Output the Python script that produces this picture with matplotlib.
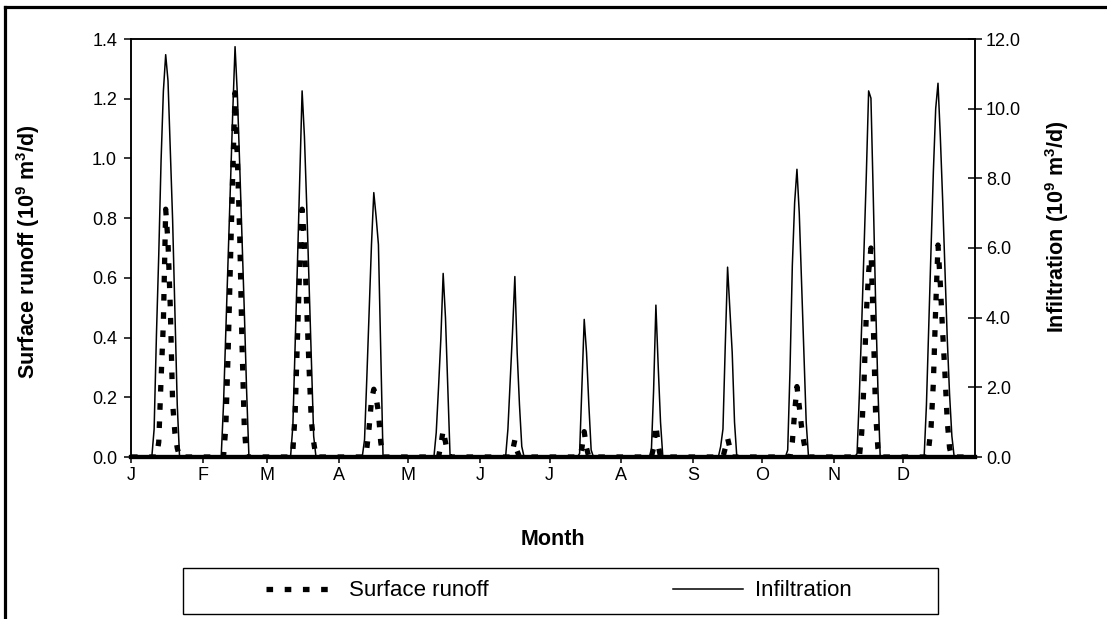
import numpy as np
import matplotlib
matplotlib.use("Agg")
import matplotlib.pyplot as plt
from matplotlib.patches import Rectangle
from matplotlib.lines import Line2D
from matplotlib.ticker import FormatStrFormatter

plt.rcParams['font.family'] = ['Liberation Sans', 'DejaVu Sans']
plt.rcParams['mathtext.fontset'] = 'custom'
plt.rcParams['mathtext.rm'] = 'Liberation Sans'
plt.rcParams['mathtext.bf'] = 'Liberation Sans:bold'

# daily series, one storm event per month (start day of year, daily values)
month_labels = ["J", "F", "M", "A", "M", "J", "J", "A", "S", "O", "N", "D"]
month_start = [0, 31, 59, 90, 120, 151, 181, 212, 243, 273, 304, 334]

infil_start = [9, 39, 69, 100, 131, 162, 193, 224, 254, 283, 313, 343]
infil_events = [
    [0, 0.8, 3.5, 5.8, 8.5, 10.5, 11.55, 10.8, 8.8, 6.8, 4.2, 1.5, 0],
    [0, 1.5, 3.6, 5.7, 7.8, 9.9, 11.78, 10.4, 8.4, 6.3, 4.2, 1.9, 0],
    [0, 0.9, 3.2, 5.6, 8.0, 10.51, 9.2, 7.2, 5.0, 2.8, 0.6, 0],
    [0, 0.5, 2.3, 4.2, 6.1, 7.59, 6.9, 6.1, 3.0, 0],
    [0, 0.7, 2.0, 3.4, 5.27, 4.0, 2.0, 0, 0],
    [0, 0.8, 2.2, 3.6, 5.18, 3.0, 1.5, 0.3, 0],
    [0, 0.1, 2.0, 3.95, 3.0, 1.5, 0.2, 0],
    [0, 0.1, 1.9, 4.36, 2.6, 1.0, 0],
    [0, 0.3, 0.8, 3.2, 5.45, 4.2, 3.0, 1.0, 0],
    [0, 0.2, 2.5, 5.5, 7.3, 8.26, 7.0, 5.0, 3.0, 1.0, 0],
    [0, 0.1, 1.8, 3.8, 5.9, 8.1, 10.51, 10.3, 7.5, 4.5, 2.0, 0],
    [0, 1.5, 3.8, 6.0, 8.2, 10.0, 10.73, 9.2, 7.4, 5.4, 3.4, 1.8, 0.6, 0],
]

runoff_start = [11, 40, 69, 101, 133, 164, 194, 225, 256, 285, 315, 344]
runoff_events = [
    [0, 0.05, 0.26, 0.45, 0.83, 0.72, 0.5, 0.18, 0.08, 0.03, 0],
    [0, 0.1, 0.35, 0.65, 0.95, 1.22, 1.0, 0.75, 0.38, 0.1, 0],
    [0, 0.02, 0.15, 0.4, 0.65, 0.83, 0.72, 0.5, 0.3, 0.12, 0.05, 0],
    [0, 0.03, 0.1, 0.19, 0.227, 0.2, 0.15, 0.05, 0],
    [0, 0.04, 0.09, 0.05, 0.01, 0],
    [0, 0.02, 0.057, 0.02, 0],
    [0, 0.03, 0.085, 0.03, 0],
    [0, 0.03, 0.107, 0.04, 0],
    [0, 0.03, 0.063, 0.03, 0],
    [0, 0.05, 0.15, 0.236, 0.17, 0.1, 0.05, 0.01, 0],
    [0, 0.08, 0.25, 0.48, 0.62, 0.70, 0.45, 0.15, 0.03, 0],
    [0, 0.03, 0.1, 0.25, 0.5, 0.71, 0.58, 0.42, 0.28, 0.12, 0.03, 0],
]

days = np.arange(365)
infiltration = np.zeros(365)
for s, ev in zip(infil_start, infil_events):
    infiltration[s:s + len(ev)] = ev
runoff = np.zeros(365)
for s, ev in zip(runoff_start, runoff_events):
    runoff[s:s + len(ev)] = ev

W, H = 1107, 619
fig = plt.figure(figsize=(W / 100, H / 100), dpi=100)
ax = fig.add_axes([131 / W, 162 / H, 844 / W, 418 / H])
ax2 = ax.twinx()

l1, = ax.plot(days, runoff, color="black", lw=3.8, linestyle=(0, (1.25, 2.2)),
              dash_capstyle="butt", label="Surface runoff", zorder=2)
l2, = ax2.plot(days, infiltration, color="black", lw=1.1, label="Infiltration")

ax.set_xlim(0, 365)
ax.set_ylim(0, 1.4)
ax2.set_ylim(0, 12)
ax.set_yticks(np.arange(0, 1.41, 0.2))
ax2.set_yticks(np.arange(0, 12.1, 2))
ax.yaxis.set_major_formatter(FormatStrFormatter("%.1f"))
ax2.yaxis.set_major_formatter(FormatStrFormatter("%.1f"))
ax.set_xticks(month_start)
ax.set_xticklabels(month_labels)

for a in (ax, ax2):
    for sp in a.spines.values():
        sp.set_linewidth(1.1)
    a.spines["bottom"].set_linewidth(3)

ax.tick_params(axis="y", direction="out", length=5, width=1.1, labelsize=13, pad=5)
ax.tick_params(axis="x", direction="out", length=4, width=1.1, labelsize=13, pad=3)
ax2.tick_params(axis="y", direction="inout", length=10, width=1.1, labelsize=13, pad=3)

ax.set_ylabel(r"Surface runoff (10$^{\mathbf{9}}$ m$^{\mathbf{3}}$/d)", fontsize=15.5, fontweight="bold")
ax.yaxis.set_label_coords(-0.1055, 0.49)
ax2.set_ylabel(r"Infiltration (10$^{\mathbf{9}}$ m$^{\mathbf{3}}$/d)", fontsize=15.5, fontweight="bold",
               rotation=90)
ax2.yaxis.set_label_coords(1.081, 0.55)
ax.set_xlabel("Month", fontsize=15.5, fontweight="bold")
ax.xaxis.set_label_coords(0.5, -0.172)

# legend with its own box
fig.legend(handles=[l1, l2], loc="center", bbox_to_anchor=(559 / W, 28 / H),
           ncol=2, frameon=False, fontsize=16, handlelength=3.15,
           handletextpad=0.55, columnspacing=8.3)
fig.add_artist(Rectangle((183 / W, 5 / H), 755 / W, 46 / H, transform=fig.transFigure,
                         fill=False, ec="black", lw=1))

# chart area frame
fig.add_artist(Line2D([4.5 / W, 4.5 / W], [-0.05, 1 - 6.5 / H], transform=fig.transFigure,
                      color="black", lw=2.3))
fig.add_artist(Line2D([4.5 / W, 1.05], [1 - 6.5 / H, 1 - 6.5 / H], transform=fig.transFigure,
                      color="black", lw=2.3))

fig.savefig("out.png", dpi=100)
